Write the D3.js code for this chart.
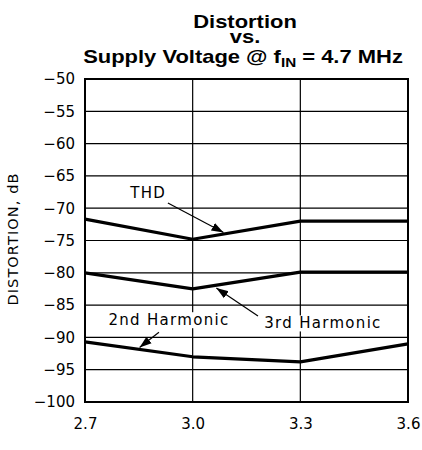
<!DOCTYPE html>
<html>
<head>
<meta charset="utf-8">
<script src="https://cdn.jsdelivr.net/npm/d3@7"></script>
<style>
  body { margin: 0; background: #fff; }
  svg { display: block; }
  .tick-label, .anno, .ytitle { font-family: "DejaVu Sans", sans-serif; fill: #000; }
  .title { font-family: "Liberation Sans", Arial, sans-serif; font-weight: bold; fill: #000; }
</style>
</head>
<body>
<svg id="chart" width="422" height="450"></svg>
<script>
// Supply voltage (V) on the x axis
const voltages = [2.7, 3.0, 3.3, 3.6];
// Distortion in dB for each voltage
const thd = [-71.7, -74.8, -72.0, -72.0];
const harmonic3 = [-80.0, -82.5, -79.9, -79.9];
const harmonic2 = [-90.7, -93.0, -93.8, -91.0];

const xTicks = [2.7, 3.0, 3.3, 3.6];
const xTickLabels = ["2.7", "3.0", "3.3", "3.6"];
const yTicks = [-50, -55, -60, -65, -70, -75, -80, -85, -90, -95, -100];

// Callout labels: text position and arrow from/to, in data units
const labels = [
  { text: "THD", x: 2.876, y: -67.6, from: [2.931, -69.2], to: [3.086, -73.75] },
  { text: "3rd Harmonic", x: 3.363, y: -87.8, from: [3.182, -86.7], to: [3.066, -82.35] },
  { text: "2nd Harmonic", x: 2.934, y: -87.3, from: [2.906, -89.2], to: [2.852, -91.55] }
];

const svg = d3.select("#chart");
const plotLeft = 85, plotRight = 408, plotTop = 79, plotBottom = 402;

const x = d3.scaleLinear().domain([2.7, 3.6]).range([plotLeft, plotRight]);
const y = d3.scaleLinear().domain([-100, -50]).range([plotBottom, plotTop]);

// Title: one bold block of three lines, slightly widened
const titleScale = 1.22, titleCx = 245;
const title = svg.append("text").attr("class", "title")
  .attr("text-anchor", "middle").attr("font-size", 18)
  .attr("transform", `translate(${titleCx},0) scale(${titleScale},1)`);
title.append("tspan").attr("x", 0).attr("y", 28).text("Distortion");
title.append("tspan").attr("x", 0).attr("y", 43).text("vs.");
const line3 = title.append("tspan").attr("x", (243 - titleCx) / titleScale).attr("y", 63);
line3.append("tspan").text("Supply Voltage @ f");
line3.append("tspan").attr("font-size", 12.5).attr("dy", 4).text("IN");
line3.append("tspan").attr("dy", -4).text(" = 4.7 MHz");

// Grid
const grid = svg.append("g");
grid.selectAll("line.h").data(yTicks.filter(d => d > -100 && d < -50)).join("line")
  .attr("x1", plotLeft).attr("x2", plotRight)
  .attr("y1", d => y(d)).attr("y2", d => y(d))
  .attr("stroke", "#000").attr("stroke-width", 1.2);
grid.selectAll("line.v").data(xTicks.slice(1, -1)).join("line")
  .attr("x1", d => x(d)).attr("x2", d => x(d))
  .attr("y1", plotTop).attr("y2", plotBottom)
  .attr("stroke", "#000").attr("stroke-width", 1.2);

// Axes (labels only; frame drawn as a rect)
const yAxis = d3.axisLeft(y).tickValues(yTicks).tickSize(0).tickPadding(10)
  .tickFormat(d => String(d).replace("-", "\u2212"));
svg.append("g").attr("transform", `translate(${plotLeft},0)`).call(yAxis)
  .call(g => g.select(".domain").remove())
  .selectAll("text").attr("class", "tick-label").attr("font-size", 15)
  .attr("font-family", "DejaVu Sans").attr("fill", "#000");

const xAxis = d3.axisBottom(x).tickValues(xTicks).tickSize(0).tickPadding(16)
  .tickFormat((d, i) => xTickLabels[i]);
svg.append("g").attr("transform", `translate(0,${plotBottom})`).call(xAxis)
  .call(g => g.select(".domain").remove())
  .selectAll("text").attr("class", "tick-label").attr("font-size", 15)
  .attr("font-family", "DejaVu Sans").attr("fill", "#000");

svg.append("text").attr("class", "ytitle").attr("font-size", 14.5)
  .attr("letter-spacing", 1.1)
  .attr("text-anchor", "middle")
  .attr("transform", "translate(18,239) rotate(-90)")
  .text("DISTORTION, dB");

// Data lines
const line = d3.line().x((d, i) => x(voltages[i])).y(d => y(d));
[thd, harmonic3, harmonic2].forEach(s => {
  svg.append("path").datum(s).attr("d", line)
    .attr("fill", "none").attr("stroke", "#000").attr("stroke-width", 3.2)
    .attr("stroke-linejoin", "round");
});

// Frame
svg.append("rect").attr("x", plotLeft).attr("y", plotTop)
  .attr("width", plotRight - plotLeft).attr("height", plotBottom - plotTop)
  .attr("fill", "none").attr("stroke", "#000").attr("stroke-width", 2);

// Arrowhead
svg.append("defs").append("marker").attr("id", "arrow")
  .attr("viewBox", "0 0 10 10").attr("refX", 10).attr("refY", 5)
  .attr("markerWidth", 12).attr("markerHeight", 12).attr("markerUnits", "userSpaceOnUse")
  .attr("orient", "auto")
  .append("path").attr("d", "M0,1.5 L10,5 L0,8.5 Z").attr("fill", "#000");

// Callouts
labels.forEach(l => {
  const g = svg.append("g");
  const bg = g.append("rect").attr("fill", "#fff");
  const t = g.append("text").attr("class", "anno").attr("font-size", 15)
    .attr("text-anchor", "middle").attr("letter-spacing", 1.3)
    .attr("x", x(l.x)).attr("y", y(l.y)).attr("dy", "0.35em").text(l.text);
  const b = t.node().getBBox();
  bg.attr("x", b.x - 3).attr("y", b.y + 1).attr("width", b.width + 6).attr("height", b.height - 2);
  g.append("line")
    .attr("x1", x(l.from[0])).attr("y1", y(l.from[1]))
    .attr("x2", x(l.to[0])).attr("y2", y(l.to[1]))
    .attr("stroke", "#000").attr("stroke-width", 1.2)
    .attr("marker-end", "url(#arrow)");
});
</script>
</body>
</html>
